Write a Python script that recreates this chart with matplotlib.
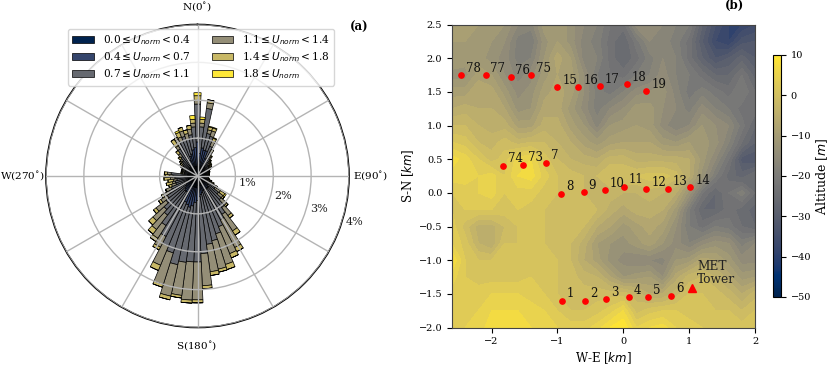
import numpy as np
import matplotlib
matplotlib.use('Agg')
import matplotlib.pyplot as plt

plt.rcParams['font.family'] = 'DejaVu Serif'
plt.rcParams['font.size'] = 7.5

# wind rose, sector centres every 5 deg, upper edge of each speed class in %
directions = list(range(0, 360, 5))
edge_1 = [.25, .2, .25, .2, .2, .15, .15, .12, .12, .1, .1, .1, .1, .1, .1, .1, .1, .1,
          .08, .08, .08, .08, .1, .1, .1, .12, .12, .15, .15, .15, .2, .2, .2, .25, .25, .25,
          .25, .3, .3, .3, .3, .3, .3, .25, .2, .15, .15, .12, .12, .1, .1, .1, .1, .1,
          .1, .1, .1, .1, .1, .1, .1, .1, .12, .12, .15, .15, .2, .2, .2, .25, .25, .25]
edge_2 = [.9, .6, .75, .7, .7, .5, .4, .3, .28, .25, .22, .2, .2, .2, .2, .2, .2, .2,
          .18, .18, .18, .2, .2, .22, .25, .28, .35, .4, .4, .4, .4, .4, .4, .45, .5, .55,
          .65, .7, .8, .85, .8, .75, .6, .5, .5, .45, .4, .35, .3, .28, .25, .25, .25, .25,
          .25, .25, .25, .2, .2, .2, .2, .2, .25, .28, .3, .35, .4, .45, .55, .6, .7, .75]
edge_3 = [1.9, 1.3, 1.8, 1.15, 1.1, .85, .65, .55, .45, .4, .38, .36, .35, .3, .3, .28, .26, .26,
          .25, .25, .25, .25, .28, .35, .45, .55, .7, .85, 1.05, 1.2, 1.3, 1.45, 1.6, 1.75, 1.82, 2.05,
          2.27, 2.27, 2.3, 2.4, 2.13, 2.0, 1.8, 1.55, 1.3, 1.2, 1.05, .95, .85, .75, .6, .6, .55, .6,
          .65, .7, .35, .35, .35, .35, .4, .45, .5, .55, .65, .85, .95, 1.0, 1.1, 1.0, 1.1, 1.3]
edge_4 = [2.0, 1.4, 1.95, 1.25, 1.25, 1.0, .72, .6, .5, .45, .42, .4, .38, .33, .32, .3, .3, .3,
          .28, .28, .28, .3, .35, .42, .55, .72, .85, 1.05, 1.32, 1.72, 2.13, 2.22, 2.45, 2.52, 2.55, 2.9,
          3.27, 3.28, 3.18, 3.25, 3.0, 2.55, 2.12, 1.95, 1.78, 1.6, 1.38, 1.15, 1.02, .9, .72, .68, .65, .72,
          .75, .8, .4, .4, .42, .42, .45, .5, .55, .62, .75, .95, 1.1, 1.12, 1.25, 1.15, 1.25, 1.4]
edge_5 = [2.12, 1.5, 2.03, 1.33, 1.33, 1.08, .78, .63, .53, .48, .46, .44, .4, .34, .34, .32, .31, .31,
          .29, .29, .3, .32, .38, .46, .6, .86, .9, 1.1, 1.4, 1.85, 2.25, 2.34, 2.59, 2.6, 2.65, 2.98,
          3.35, 3.36, 3.25, 3.35, 3.08, 2.7, 2.2, 2.05, 1.93, 1.75, 1.47, 1.22, 1.08, .92, .8, .85, .78, .88,
          .85, .87, .43, .43, .45, .45, .5, .55, .6, .68, .85, 1.15, 1.15, 1.25, 1.35, 1.25, 1.35, 1.5]
edge_6 = [2.2, 1.56, 2.03, 1.35, 1.35, 1.1, .8, .65, .55, .5, .48, .45, .4, .35, .35, .33, .32, .32,
          .3, .3, .3, .33, .4, .48, .6, .9, .9, 1.1, 1.4, 1.85, 2.25, 2.34, 2.59, 2.6, 2.65, 2.98,
          3.35, 3.36, 3.25, 3.35, 3.08, 2.7, 2.2, 2.05, 1.93, 1.75, 1.47, 1.22, 1.08, .92, .8, .85, .8, .9,
          .88, .88, .45, .45, .45, .45, .5, .55, .6, .7, .85, 1.15, 1.15, 1.3, 1.35, 1.25, 1.35, 1.6]
speed_labels = [r'0.0$\leq U_{norm} <$0.4', r'0.4$\leq U_{norm} <$0.7', r'0.7$\leq U_{norm} <$1.1',
                r'1.1$\leq U_{norm} <$1.4', r'1.4$\leq U_{norm} <$1.8', r'1.8$\leq U_{norm}$']
ring_values = [1, 2, 3, 4]
ring_labels = ['1%', '2%', '3%', '4%']

# terrain read by eye, rows from y=2.5 down to y=-2.0
grid_x = [-2.6, -2.4, -2.2, -2.0, -1.8, -1.6, -1.4, -1.2, -1.0, -.8, -.6, -.4, -.2, 0, .2, .4, .6, .8, 1.0, 1.2, 1.4, 1.6, 1.8, 2.0]
grid_y = [2.5, 2.25, 2.0, 1.75, 1.5, 1.25, 1.0, .75, .5, .25, 0, -.25, -.5, -.75, -1.0, -1.25, -1.5, -1.75, -2.0]
altitude = [
    [-9, -9, -10, -10, -12, -16, -17, -11, -10, -13, -16, -18, -22, -23, -15, -14, -16, -18, -20, -28, -34, -38, -38, -36],
    [-10, -10, -11, -12, -14, -19, -20, -13, -10, -13, -17, -19, -23, -26, -21, -16, -17, -19, -23, -30, -36, -38, -33, -32],
    [-10, -11, -11, -13, -15, -19, -18, -12, -7, -10, -17, -18, -23, -26, -23, -19, -16, -18, -23, -28, -32, -30, -27, -30],
    [-13, -13, -9, -10, -14, -17, -15, -11, -8, -9, -14, -20, -22, -23, -20, -18, -15, -18, -20, -23, -26, -26, -22, -27],
    [-9, -9, -6, -7, -11, -15, -13, -9, -7, -9, -14, -19, -21, -18, -15, -14, -13, -17, -21, -19, -21, -23, -20, -24],
    [-6, -5, -6, -6, -8, -13, -12, -7, -7, -11, -15, -19, -16, -14, -11, -11, -14, -16, -19, -15, -18, -20, -23, -23],
    [-2, -2, -4, -5, -5, -9, -9, -5, -5, -9, -12, -17, -12, -11, -10, -11, -15, -18, -16, -12, -14, -16, -21, -26],
    [2, 1, -2, -3, -1, -3, -2, -2, -4, -6, -9, -11, -9, -8, -8, -8, -11, -12, -10, -11, -13, -18, -24, -28],
    [7, 5, 2, -1, 1, 5, 6, 1, -2, -4, -5, -6, -3, -3, -5, -5, -5, -5, -6, -11, -16, -22, -31, -32],
    [5, 5, 4, 5, 2, 6, 7, 3, 0, -1, -2, -2, 0, 0, 0, 1, 1, -1, -6, -13, -20, -25, -27, -24],
    [2, 3, 4, 5, 2, 3, 3, 1, 0, -1, -2, -3, -3, -4, -4, -3, -4, -6, -13, -22, -26, -22, -19, -24],
    [2, 2, 2, 2, 1, 2, 1, 0, 0, 0, -1, -2, -5, -7, -5, -5, -6, -11, -20, -26, -26, -23, -25, -27],
    [3, -1, -5, -5, -2, 0, 1, 0, 0, 0, -2, -6, -8, -11, -9, -7, -9, -14, -20, -23, -20, -21, -24, -26],
    [4, 1, -4, -6, 0, 0, 1, 0, 0, -2, -5, -10, -12, -13, -11, -9, -12, -15, -18, -15, -13, -14, -19, -16],
    [8, 2, 0, 0, 1, 1, 1, 1, 0, -2, -6, -9, -13, -15, -16, -16, -17, -12, -11, -7, -8, -11, -15, -15],
    [5, 2, 1, 1, 1, 1, 2, 1, 0, -1, -3, -4, -8, -12, -11, -10, -14, -7, -3, -2, -4, -7, -11, -10],
    [3, 3, 3, 4, 4, 4, 3, 2, 0, 0, -1, -1, -1, -1, -3, -6, -6, -3, 0, 0, -1, -3, -6, -3],
    [3, 4, 4, 6, 6, 6, 5, 4, 2, 0, 0, 1, 3, 6, -1, 1, 2, 2, 1, 1, 0, 0, -2, 0],
    [4, 4, 5, 7, 7, 7, 6, 5, 4, 3, 3, 5, 8, 10, 4, 6, 7, 4, 3, 2, 2, 1, 1, 2],
]

# turbine and tower locations in km
turbine_labels = ['1', '2', '3', '4', '5', '6', '8', '9', '10', '11', '12', '13', '14', '74', '73', '7',
                  '78', '77', '76', '75', '15', '16', '17', '18', '19']
turbine_x = [-.93, -.58, -.26, .08, .38, .73, -.94, -.6, -.28, .01, .35, .68, 1.02, -1.82, -1.52, -1.17,
             -2.46, -2.09, -1.71, -1.4, -1.0, -.68, -.36, .05, .35]
turbine_y = [-1.6, -1.6, -1.58, -1.55, -1.55, -1.53, -.01, .01, .04, .09, .05, .06, .08, .4, .42, .45,
             1.75, 1.75, 1.72, 1.75, 1.57, 1.57, 1.58, 1.61, 1.51]
tower_x = 1.04
tower_y = -1.42


def px_axes(fig, left, top, right, bottom):
    W, H = fig.canvas.get_width_height()
    return [left / W, 1 - bottom / H, (right - left) / W, (bottom - top) / H]


def px_text(fig, x, y, s, **kw):
    return fig.text(x / 830, 1 - y / 365, s, **kw)


fig = plt.figure(figsize=(8.3, 3.65), dpi=100)

# (a) wind rose
ax = fig.add_axes(px_axes(fig, 46, 24.5, 349, 327.5), projection='polar')
ax.set_theta_zero_location('N')
ax.set_theta_direction(-1)
theta = np.deg2rad(directions)
edges = [edge_1, edge_2, edge_3, edge_4, edge_5, edge_6]
colors = [plt.cm.cividis(v) for v in np.linspace(0, 1, 6)]
base = np.zeros(len(directions))
for top, col, lab in zip(edges, colors, speed_labels):
    top = np.array(top)
    ax.bar(theta, top - base, width=np.deg2rad(5), bottom=base, color=col, edgecolor='black',
           linewidth=0.5, label=lab, zorder=2)
    base = top
ax.set_rlim(0, 4)
ax.set_axisbelow(False)
ax.set_thetagrids(range(0, 360, 30), [''] * 12)
ax.set_rgrids(ring_values, [''] * 4)
ax.grid(True, color='#b4b4b4', linewidth=1.0)
ax.spines['polar'].set_linewidth(1.2)
ax.spines['polar'].set_color('black')
for r, lab in zip(ring_values, ring_labels):
    ax.annotate(lab, (np.deg2rad(110), r), xytext=(4.3, 4.3), textcoords='offset points',
                fontsize=8, ha='left', va='center', color='#222222', annotation_clip=False)
px_text(fig, 197, 7, 'N(0$^{\\circ}$)', ha='center', va='center')
px_text(fig, 197, 346, 'S(180$^{\\circ}$)', ha='center', va='center')
px_text(fig, 353, 176, 'E(90$^{\\circ}$)', ha='left', va='center')
px_text(fig, 45, 176, 'W(270$^{\\circ}$)', ha='right', va='center')
ax.legend(ncol=2, loc='upper left', bbox_to_anchor=(68 / 830, 1 - 29 / 365), bbox_transform=fig.transFigure,
          borderaxespad=0, fontsize=7.6, columnspacing=2.0, handlelength=2.0, handleheight=0.7,
          handletextpad=0.85, borderpad=0.42, labelspacing=0.3)
px_text(fig, 359, 27, '(a)', fontsize=8.5, fontweight='bold', ha='center', va='center')

# (b) terrain and layout
ax2 = fig.add_axes(px_axes(fig, 452, 24.5, 755, 327.5))
levels = np.arange(-50, 11, 2)
cf = ax2.contourf(grid_x, grid_y, altitude, levels=levels, cmap='cividis', vmin=-50, vmax=10, extend='both')
ax2.plot(turbine_x, turbine_y, 'o', color='red', markersize=3.8, linestyle='none')
ax2.plot(tower_x, tower_y, '^', color='red', markersize=5.5)
for lab, x, y in zip(turbine_labels, turbine_x, turbine_y):
    ax2.annotate(lab, (x, y), xytext=(3.5, 2.5), textcoords='offset points', fontsize=8.5, color='#111111')
ax2.annotate('MET\nTower', (tower_x, tower_y), xytext=(4, 4), textcoords='offset points', fontsize=8.8,
             color='#222222', linespacing=1.0)
ax2.set_xlim(-2.6, 2)
ax2.set_ylim(-2, 2.5)
ax2.set_xticks([-2, -1, 0, 1, 2])
ax2.set_yticks(np.arange(-2, 2.6, .5))
ax2.set_xlabel('W-E [$km$]', fontsize=8.5, labelpad=3)
ax2.set_ylabel('S-N [$km$]', fontsize=8.5, labelpad=2)
ax2.tick_params(labelsize=7)
for s in ax2.spines.values():
    s.set_color('#444444')
px_text(fig, 734, 5, '(b)', fontsize=8.5, fontweight='bold', ha='center', va='center')

cax = fig.add_axes(px_axes(fig, 773, 55, 781, 297))
sm = plt.cm.ScalarMappable(cmap='cividis', norm=plt.Normalize(-50, 10))
cb = fig.colorbar(sm, cax=cax)
cb.set_ticks([10, 0, -10, -20, -30, -40, -50])
cb.ax.tick_params(labelsize=7)
cb.set_label('Altitude [$m$]', fontsize=9, labelpad=2)

fig.savefig('out.png', dpi=100)
